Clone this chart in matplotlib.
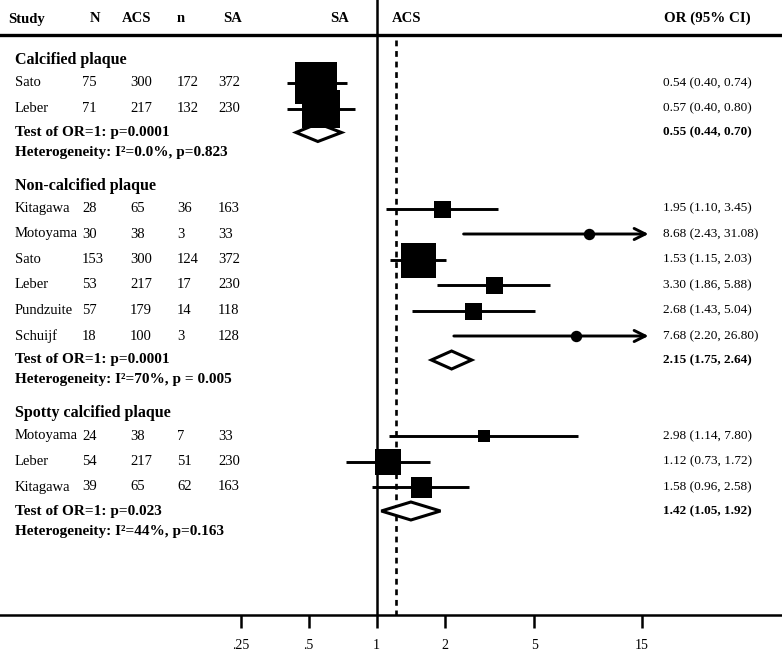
import numpy as np
import matplotlib
matplotlib.use("Agg")
import matplotlib.pyplot as plt

plt.rcParams['font.family'] = ['Liberation Serif', 'DejaVu Serif']

# ---- data ----
groups = ["Calcified plaque", "Non-calcified plaque", "Spotty calcified plaque"]
study = ["Sato", "Leber",
         "Kitagawa", "Motoyama", "Sato", "Leber", "Pundzuite", "Schuijf",
         "Motoyama", "Leber", "Kitagawa"]
group_of = [0, 0, 1, 1, 1, 1, 1, 1, 2, 2, 2]
acs_pos = [75, 71, 28, 30, 153, 53, 57, 18, 24, 54, 39]
acs_tot = [300, 217, 65, 38, 300, 217, 179, 100, 38, 217, 65]
sa_pos = [172, 132, 36, 3, 124, 17, 14, 3, 7, 51, 62]
sa_tot = [372, 230, 163, 33, 372, 230, 118, 128, 33, 230, 163]
or_est = [0.54, 0.57, 1.95, 8.68, 1.53, 3.30, 2.68, 7.68, 2.98, 1.12, 1.58]
or_lo = [0.40, 0.40, 1.10, 2.43, 1.15, 1.86, 1.43, 2.20, 1.14, 0.73, 0.96]
or_hi = [0.74, 0.80, 3.45, 31.08, 2.03, 5.88, 5.04, 26.80, 7.80, 1.72, 2.58]
box_px = [42, 38, 17, 10, 35, 17, 17, 10, 12, 26, 21]   # weight boxes (side, px)

pool_or = [0.55, 2.15, 1.42]
pool_lo = [0.44, 1.75, 1.05]
pool_hi = [0.70, 2.64, 1.92]
test_p = ["0.0001", "0.0001", "0.023"]
het_txt = ["I\u00b2=0.0%, p=0.823", "I\u00b2=70%, p = 0.005", "I\u00b2=44%, p=0.163"]
overall_or = 1.22

tick_vals = [0.25, 0.5, 1, 2, 5, 15]
tick_labs = [".25", ".5", "1", "2", "5", "15"]
clip_hi = 16

# ---- layout (pixel rows from top) ----
W, H = 782, 651
axis_y = 615
x_one = 376.5
px_per_doub = 68.0

fig = plt.figure(figsize=(W / 100, H / 100), dpi=100)
ax = fig.add_axes([0, (H - axis_y) / H, 1, axis_y / H])
ax.set_xscale('log', base=2)
ax.set_xlim(2 ** (-x_one / px_per_doub), 2 ** ((W - x_one) / px_per_doub))
ax.set_ylim(axis_y, 0)
for s in ['left', 'right', 'top']:
    ax.spines[s].set_visible(False)
ax.spines['bottom'].set_linewidth(1.8)
ax.set_yticks([])
ax.set_xticks(tick_vals)
ax.set_xticklabels(tick_labs)
ax.minorticks_off()
ax.tick_params(axis='x', direction='out', length=9, width=1.8, labelsize=10, pad=8)

tr = ax.get_yaxis_transform()
def px(x):
    return x / W

# rows
heading_y, study_y, test_y, het_y = [], [], [], []
y = 60
for g in range(len(groups)):
    heading_y.append(y)
    y += 23
    idx = [i for i in range(len(study)) if group_of[i] == g]
    for k, i in enumerate(idx):
        study_y.append(y)
        if k < len(idx) - 1:
            y += 25.5
    y += 24
    test_y.append(y)
    y += 20
    het_y.append(y)
    y += 33

# header
hdr_y = 18
ax.text(px(8), hdr_y + 2, "Study", transform=tr, fontsize=10.5, fontweight='bold', va='center')
ax.text(px(95), hdr_y, "N", transform=tr, fontsize=10.5, fontweight='bold', va='center', ha='center')
ax.text(px(137), hdr_y, "ACS", transform=tr, fontsize=10.5, fontweight='bold', va='center', ha='center')
ax.text(px(181), hdr_y, "n", transform=tr, fontsize=10.5, fontweight='bold', va='center', ha='center')
ax.text(px(233), hdr_y, "SA", transform=tr, fontsize=10.5, fontweight='bold', va='center', ha='center')
ax.text(px(340), hdr_y, "SA", transform=tr, fontsize=10.5, fontweight='bold', va='center', ha='center')
ax.text(px(392), hdr_y, "ACS", transform=tr, fontsize=10.5, fontweight='bold', va='center', ha='left')
ax.text(px(707), hdr_y, "OR (95% CI)", transform=tr, fontsize=10.8, fontweight='bold', va='center', ha='center')
ax.axhline(35, color='black', lw=2.4)

# reference lines
ax.axvline(1, color='black', lw=1.8)
ax.vlines(overall_or, 40, axis_y, colors='black', lw=1.9, linestyles=(0, (2.2, 1.8)))

for g in range(len(groups)):
    ax.text(px(15), heading_y[g], groups[g], transform=tr, fontsize=11.5,
            fontweight='bold', va='center')
    ax.text(px(15), test_y[g], "Test of OR=1: p=" + test_p[g], transform=tr,
            fontsize=11, fontweight='bold', va='center')
    ax.text(px(15), het_y[g], "Heterogeneity: " + het_txt[g], transform=tr,
            fontsize=11, fontweight='bold', va='center')
    yy = test_y[g]
    h = 9
    ax.fill([pool_lo[g], pool_or[g], pool_hi[g], pool_or[g]],
            [yy, yy - h, yy, yy + h], facecolor='white', edgecolor='black', lw=2.2, zorder=4)
    ax.text(px(663), yy, "%.2f (%.2f, %.2f)" % (pool_or[g], pool_lo[g], pool_hi[g]),
            transform=tr, fontsize=9.5, fontweight='bold', va='center')

for i in range(len(study)):
    yy = study_y[i]
    ax.text(px(15), yy, study[i], transform=tr, fontsize=10.5, va='center')
    ax.text(px(82), yy, str(acs_pos[i]), transform=tr, fontsize=10.5, va='center')
    ax.text(px(130), yy, str(acs_tot[i]), transform=tr, fontsize=10.5, va='center')
    ax.text(px(177), yy, str(sa_pos[i]), transform=tr, fontsize=10.5, va='center')
    ax.text(px(218), yy, str(sa_tot[i]), transform=tr, fontsize=10.5, va='center')
    ax.text(px(663), yy, "%.2f (%.2f, %.2f)" % (or_est[i], or_lo[i], or_hi[i]),
            transform=tr, fontsize=9.5, va='center')
    if or_hi[i] > clip_hi:
        ax.annotate('', xy=(clip_hi, yy), xytext=(or_lo[i], yy),
                    arrowprops=dict(arrowstyle='->', lw=2.1, color='black',
                                    mutation_scale=20, shrinkA=0, shrinkB=0))
        ax.scatter([or_est[i]], [yy], s=(box_px[i] * 0.72) ** 2, marker='o',
                   color='black', zorder=5)
    else:
        ax.plot([or_lo[i], or_hi[i]], [yy, yy], color='black', lw=2.1, solid_capstyle='butt')
        ax.scatter([or_est[i]], [yy], s=(box_px[i] * 0.72) ** 2, marker='s',
                   color='black', linewidths=0, zorder=5)

fig.savefig("out.png", dpi=100)
